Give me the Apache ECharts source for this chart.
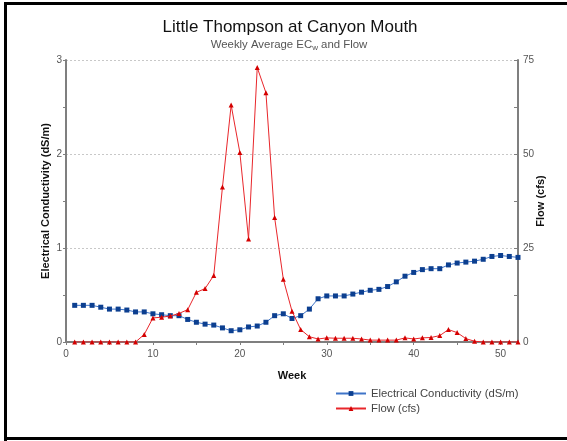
<!DOCTYPE html>
<html>
<head>
<meta charset="utf-8">
<script src="https://cdn.jsdelivr.net/npm/echarts@6/dist/echarts.min.js"></script>
<style>
  html, body { margin: 0; padding: 0; background: #fff; }
  #chart { width: 567px; height: 441px; }
</style>
</head>
<body>
<div id="chart"></div>
<script>
// Weeks 1..52 of the year
const weeks = [1,2,3,4,5,6,7,8,9,10,11,12,13,14,15,16,17,18,19,20,21,22,23,24,25,26,
               27,28,29,30,31,32,33,34,35,36,37,38,39,40,41,42,43,44,45,46,47,48,49,50,51,52];

// Weekly average electrical conductivity (dS/m)
const ecValues = [0.39,0.39,0.39,0.37,0.35,0.35,0.34,0.32,0.32,0.30,0.29,0.28,0.28,0.24,0.21,0.19,
                  0.18,0.15,0.12,0.13,0.16,0.17,0.21,0.28,0.30,0.25,0.28,0.35,0.46,0.49,0.49,0.49,
                  0.51,0.53,0.55,0.56,0.59,0.64,0.70,0.74,0.77,0.78,0.78,0.82,0.84,0.85,0.86,0.88,
                  0.91,0.92,0.91,0.90];

// Weekly average flow (cfs)
const flowValues = [0,0,0,0,0,0,0,0,2.0,6.4,6.6,6.9,7.6,8.6,13.2,14.2,17.7,41.2,63.0,50.4,27.4,
                    73.0,66.3,33.1,16.7,8.2,3.3,1.4,0.8,1.1,1.0,1.0,1.0,0.8,0.5,0.5,0.5,0.5,1.1,
                    0.8,1.1,1.2,1.7,3.3,2.5,0.9,0.2,0,0,0,0,0];

// Axis ticks and labels
const weekTicks = [0,5,10,15,20,25,30,35,40,45,50];
const weekLabels = [0,10,20,30,40,50];
const flowTicks = [0,12.5,25,37.5,50,62.5,75];
const flowLabels = [0,25,50,75];

const FONT = '"Liberation Sans", Arial, sans-serif';
const AXIS_GRAY = '#7f7f7f';
const LABEL_GRAY = '#555555';
const NAME_SIZE = 11;

const chart = echarts.init(document.getElementById('chart'), null, { renderer: 'canvas' });

const ecSeries = weeks.map((w, i) => [w, ecValues[i]]);
const flowSeries = weeks.map((w, i) => [w, flowValues[i]]);

chart.setOption({
  animation: false,
  backgroundColor: '#ffffff',
  textStyle: { fontFamily: FONT },
  grid: { left: 66, right: 49, top: 60, bottom: 99, containLabel: false },
  legend: {
    orient: 'vertical',
    left: 330, top: 383,
    itemWidth: 30, itemHeight: 6, itemGap: 4,
    textStyle: { fontFamily: FONT, fontSize: 11.3, color: '#444' },
    data: ['Electrical Conductivity (dS/m)', 'Flow (cfs)']
  },
  xAxis: {
    type: 'value', min: 0, max: 52, interval: 10,
    name: 'Week', nameLocation: 'middle', nameGap: 28, nameMoveOverlap: false,
    nameTextStyle: { fontFamily: FONT, fontSize: NAME_SIZE, fontWeight: 'bold', color: '#111' },
    axisLine: { show: true, lineStyle: { color: AXIS_GRAY, width: 2 } },
    axisTick: { show: true, customValues: weekTicks, length: 3, inside: false, lineStyle: { color: AXIS_GRAY } },
    axisLabel: { customValues: weekLabels, fontFamily: FONT, fontSize: 10, color: LABEL_GRAY, margin: 7 },
    splitLine: { show: false }
  },
  yAxis: [
    {
      type: 'value', min: 0, max: 3, interval: 1, position: 'left',
      name: 'Electrical Conductivity (dS/m)', nameLocation: 'middle', nameGap: 15, nameRotate: 90,
      nameMoveOverlap: false,
      nameTextStyle: { fontFamily: FONT, fontSize: NAME_SIZE, fontWeight: 'bold', color: '#111' },
      axisLine: { show: true, lineStyle: { color: AXIS_GRAY, width: 2 } },
      axisTick: { show: true, length: 3, inside: false, lineStyle: { color: AXIS_GRAY } },
      minorTick: { show: true, splitNumber: 2, length: 3, lineStyle: { color: AXIS_GRAY } },
      axisLabel: { fontFamily: FONT, fontSize: 10, color: LABEL_GRAY, margin: 4 },
      splitLine: { show: true, lineStyle: { color: '#c8c8c8', type: [2, 2], width: 1 } }
    },
    {
      type: 'value', min: 0, max: 75, interval: 25, position: 'right',
      name: 'Flow (cfs)', nameLocation: 'middle', nameGap: 17, nameRotate: 90,
      nameMoveOverlap: false,
      nameTextStyle: { fontFamily: FONT, fontSize: NAME_SIZE, fontWeight: 'bold', color: '#111' },
      axisLine: { show: true, lineStyle: { color: AXIS_GRAY, width: 2 } },
      axisTick: { show: true, customValues: flowTicks, length: 4, inside: true, lineStyle: { color: AXIS_GRAY } },
      axisLabel: { customValues: flowLabels, fontFamily: FONT, fontSize: 10, color: LABEL_GRAY, margin: 5 },
      splitLine: { show: false }
    }
  ],
  series: [
    {
      name: 'Electrical Conductivity (dS/m)',
      type: 'line', yAxisIndex: 0,
      data: ecSeries,
      symbol: 'rect', symbolSize: 5,
      lineStyle: { color: '#3f74c8', width: 1 },
      itemStyle: { color: '#0c3f90' },
      z: 3
    },
    {
      name: 'Flow (cfs)',
      type: 'line', yAxisIndex: 1,
      data: flowSeries,
      symbol: 'triangle', symbolSize: 5,
      lineStyle: { color: '#e8262b', width: 1 },
      itemStyle: { color: '#d40000' },
      z: 4
    }
  ],
  graphic: [
    // chart title and subtitle
    {
      type: 'text', x: 290, y: 27, silent: true,
      style: {
        text: 'Little Thompson at Canyon Mouth',
        font: '17px ' + FONT, fill: '#111',
        align: 'center', verticalAlign: 'middle'
      }
    },
    {
      type: 'text', x: 289, y: 45, silent: true,
      style: {
        text: 'Weekly Average EC{sub|w} and Flow',
        font: '11.4px ' + FONT, fill: '#555',
        align: 'center', verticalAlign: 'middle',
        rich: {
          sub: { font: '8px ' + FONT, fill: '#555', padding: [6, 0, 0, 0] }
        }
      }
    },
    // frame around the chart (left, top, bottom edges)
    { type: 'rect', shape: { x: 4, y: 2, width: 3, height: 439 }, style: { fill: '#000' }, silent: true },
    { type: 'rect', shape: { x: 4, y: 2, width: 563, height: 3 }, style: { fill: '#000' }, silent: true },
    { type: 'rect', shape: { x: 4, y: 437, width: 563, height: 3 }, style: { fill: '#000' }, silent: true }
  ]
});
</script>
</body>
</html>
